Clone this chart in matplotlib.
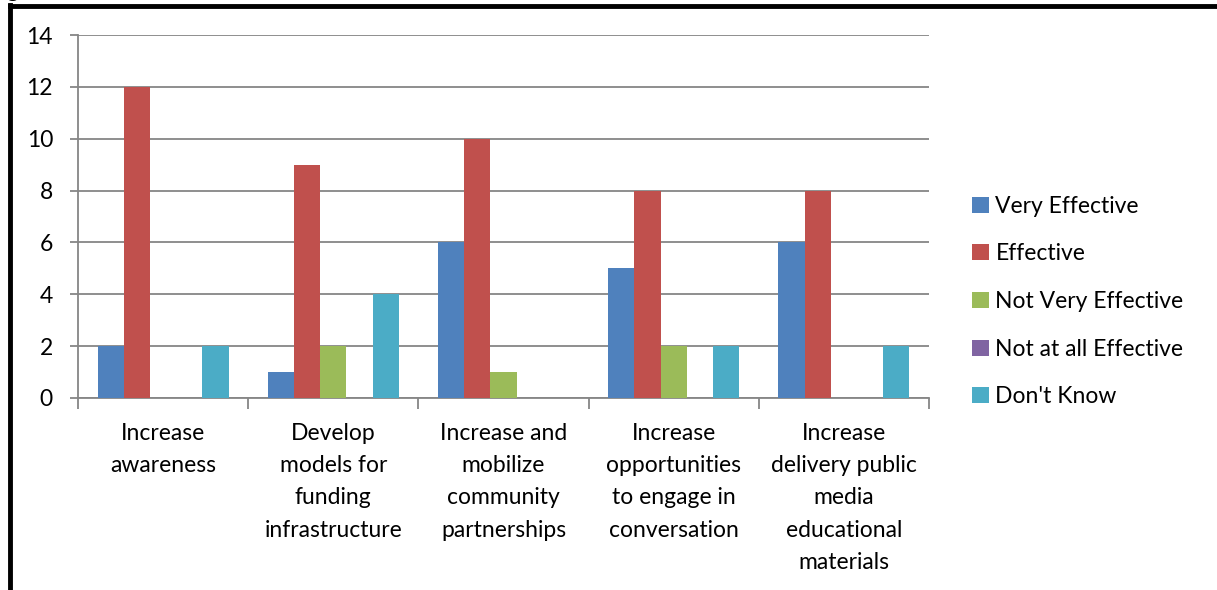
import matplotlib.pyplot as plt
import numpy as np
from matplotlib.lines import Line2D
from matplotlib.patches import Patch

plt.rcParams['font.family'] = ['Lato', 'DejaVu Sans']

## Data.
categories = [
    'Increase\nawareness',
    'Develop\nmodels for\nfunding\ninfrastructure',
    'Increase and\nmobilize\ncommunity\npartnerships',
    'Increase\nopportunities\nto engage in\nconversation',
    'Increase\ndelivery public\nmedia\neducational\nmaterials',
]
seriesNames = ['Very Effective', 'Effective', 'Not Very Effective',
               'Not at all Effective', "Don't Know"]
veryEffective = [2, 1, 6, 5, 6]
effective = [12, 9, 10, 8, 8]
notVeryEffective = [0, 2, 1, 2, 0]
notAtAllEffective = [0, 0, 0, 0, 0]
dontKnow = [2, 4, 0, 2, 2]
colorCategory = ['#4F81BD', '#C0504D', '#9BBB59', '#8064A2', '#4BACC6']

allSeries = [veryEffective, effective, notVeryEffective, notAtAllEffective, dontKnow]

## Plotting.
fig = plt.figure(figsize=(12.17, 5.9), dpi=100)
ax = fig.add_axes([78 / 1217, 1 - 398 / 590, (929 - 78) / 1217, (398 - 35) / 590])

N = len(categories)
ind = np.arange(N)
width = 1 / 6.5
for i, vals in enumerate(allSeries):
    ax.bar(ind - 2 * width + i * width, vals, width, color=colorCategory[i],
           align='center', zorder=3)

gridColor = '#868686'
fs = 16.5
ax.set_xlim(-0.5, N - 0.5)
ax.set_ylim(0, 14)
ax.set_yticks(range(0, 15, 2))
ax.yaxis.grid(True, color=gridColor, linewidth=1.3, zorder=0)
ax.set_xticks(ind)
ax.set_xticklabels(categories, fontsize=fs, linespacing=1.66, va='top')
ax.set_xticks(np.arange(N + 1) - 0.5, minor=True)
ax.tick_params(axis='x', which='major', length=0, pad=18)
ax.tick_params(axis='x', which='minor', length=8, color=gridColor, width=1.3)
ax.tick_params(axis='y', length=6, color=gridColor, width=1.3, labelsize=fs, pad=12)

for side in ['top', 'right']:
    ax.spines[side].set_visible(False)
for side in ['left', 'bottom']:
    ax.spines[side].set_color(gridColor)
    ax.spines[side].set_linewidth(1.3)

handles = [Patch(facecolor=c) for c in colorCategory]
fig.legend(handles, seriesNames, loc='center left',
           bbox_to_anchor=(961 / 1217, 1 - 301.5 / 590), frameon=False,
           fontsize=fs, handlelength=0.7, handleheight=0.7,
           handletextpad=0.3, labelspacing=1.16, borderpad=0)

## Outer frame (black lines at left and top).
fig.add_artist(Line2D([10 / 1217, 10 / 1217], [0, 1 - 5 / 590], color='black',
                      linewidth=3.5, transform=fig.transFigure))
fig.add_artist(Line2D([10 / 1217, 1], [1 - 6 / 590, 1 - 6 / 590], color='black',
                      linewidth=3.5, transform=fig.transFigure))
fig.text(6 / 1217, 1 + 3 / 590, 'g', fontsize=fs, va='baseline', ha='left')

fig.savefig('out.png', dpi=100)
